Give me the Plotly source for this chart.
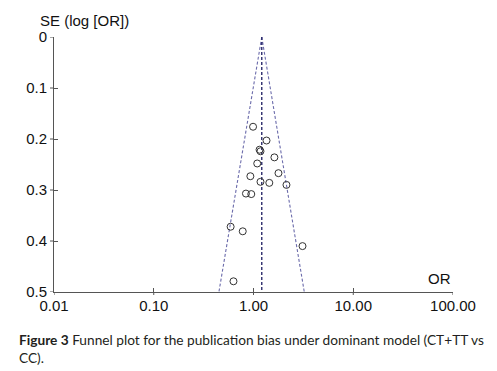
import plotly.graph_objects as go

# Study data (odds ratio, standard error of log OR)
study_or = [0.99, 1.35, 1.15, 1.175, 1.62, 1.09, 1.78, 0.93, 1.175, 1.44, 2.14,
            0.84, 0.95, 0.59, 0.78, 3.10, 0.63]
study_se = [0.176, 0.203, 0.221, 0.224, 0.236, 0.248, 0.267, 0.273, 0.284, 0.286, 0.290,
            0.307, 0.308, 0.372, 0.381, 0.410, 0.479]

pooled_or = 1.21
funnel_se = [0.0, 0.5]
funnel_lower = [1.21, 0.45]
funnel_upper = [1.21, 3.23]

x_tickvals = [0.01, 0.1, 1, 10, 100]
x_ticktext = ["0.01", "0.10", "1.00", "10.00", "100.00"]
y_tickvals = [0, 0.1, 0.2, 0.3, 0.4, 0.5]
y_ticktext = ["0", "0.1", "0.2", "0.3", "0.4", "0.5"]

fig = go.Figure()

fig.add_trace(go.Scatter(x=funnel_lower, y=funnel_se, mode="lines",
                         line=dict(color="#6b6bab", width=1.1, dash="3px,2px"),
                         hoverinfo="skip", showlegend=False))
fig.add_trace(go.Scatter(x=funnel_upper, y=funnel_se, mode="lines",
                         line=dict(color="#6b6bab", width=1.1, dash="3px,2px"),
                         hoverinfo="skip", showlegend=False))
fig.add_trace(go.Scatter(x=[pooled_or, pooled_or], y=funnel_se, mode="lines",
                         line=dict(color="#2c2c6c", width=1.4, dash="3px,2px"),
                         hoverinfo="skip", showlegend=False))
fig.add_trace(go.Scatter(x=study_or, y=study_se, mode="markers",
                         marker=dict(symbol="circle-open", size=7, color="#333333",
                                     line=dict(width=1, color="#333333")),
                         showlegend=False))

axis_font = dict(family="Liberation Sans, Arial, sans-serif", size=15, color="#111111")
tick_col = "#555555"

fig.update_xaxes(type="log", range=[-2, 2], tickvals=x_tickvals, ticktext=x_ticktext,
                 showgrid=False, zeroline=False, showline=True, linecolor=tick_col,
                 linewidth=1, ticks="inside", ticklen=4, tickcolor=tick_col,
                 tickfont=axis_font, automargin=False)
fig.update_yaxes(range=[0.5, 0], tickvals=y_tickvals, ticktext=y_ticktext,
                 showgrid=False, zeroline=False, showline=True, linecolor=tick_col,
                 linewidth=1, ticks="inside", ticklen=4, tickcolor=tick_col,
                 tickfont=axis_font, automargin=False, ticklabelstandoff=3)

# outer halves of the crossing tick marks
for tv in x_tickvals:
    fig.add_shape(type="line", xref="x", yref="paper", x0=tv, x1=tv,
                  ysizemode="pixel", yanchor=0, y0=0, y1=-3,
                  line=dict(color=tick_col, width=1))
for tv in y_tickvals:
    fig.add_shape(type="line", xref="paper", yref="y", y0=tv, y1=tv,
                  xsizemode="pixel", xanchor=0, x0=0, x1=-4,
                  line=dict(color=tick_col, width=1))

fig.add_annotation(text="SE (log [OR])", xref="paper", yref="paper",
                   x=-0.041, y=1.0, yshift=17, xanchor="left", yanchor="middle",
                   showarrow=False, font=axis_font)
fig.add_annotation(text="OR", xref="paper", yref="paper",
                   x=1.0, y=0.0, yshift=3, xanchor="right", yanchor="bottom",
                   showarrow=False, font=axis_font)

cap_font = dict(family="Lato, 'Open Sans', sans-serif", size=13.7, color="#231f20")
fig.add_annotation(
    text="<b>Figure 3</b> Funnel plot for the publication bias under dominant model (CT+TT vs<br>CC).",
    xref="paper", yref="paper", x=-0.093, y=-0.146, xanchor="left", yanchor="top",
    align="left", showarrow=False, font=cap_font)

# the page body adds an 8px offset, so the figure is 8px smaller with 8px less left/top margin
fig.update_layout(width=489, height=363, plot_bgcolor="white", paper_bgcolor="white",
                  margin=dict(l=46, r=44, t=29, b=79))

fig.write_html("out.html")
